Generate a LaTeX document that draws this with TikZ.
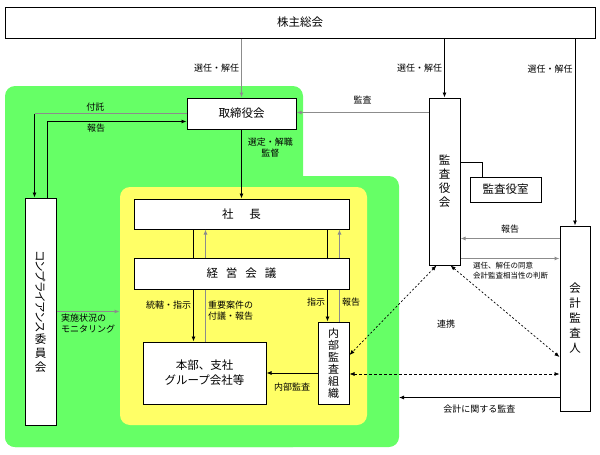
\documentclass[tikz,border=0pt]{standalone}
\usepackage{fontspec}
\setmainfont{Noto Sans CJK JP}
\newfontfamily\jpprop[RawFeature=+palt]{Noto Sans CJK JP}
\usetikzlibrary{arrows.meta, positioning, calc}
\definecolor{grnarea}{HTML}{66FF66}
\definecolor{ylwarea}{HTML}{FFFF66}
\definecolor{lngray}{HTML}{8C8C8C}

\begin{document}
\begin{tikzpicture}[x=1pt, y=-1pt, >={Latex[length=5pt,width=4pt]}, line width=0.8pt,
    box/.style={draw, fill=white, line width=1pt, inner sep=0pt, align=center,
                font=\fontsize{11.5}{14}\selectfont},
    lbl/.style={font=\fontsize{9}{11}\selectfont, inner sep=2pt, align=center},
    gline/.style={draw=lngray, line width=1pt},
    link/.style={<->, dash pattern=on 2pt off 2pt, line width=0.7pt}]
    \useasboundingbox (0,0) rectangle (600,455);
    % areas
    \fill[grnarea, rounded corners=10] (5,86) rectangle (303,447);
    \fill[grnarea, rounded corners=10] (5,176) rectangle (399,447);
    \coordinate (grnE) at (399,447);
    \node[fill=ylwarea, rounded corners=10, minimum width=247, minimum height=238] (core) at (243.5,306) {};

    \node[box, minimum width=590, minimum height=31] (agm) at (300,22.5) {株主総会};
    \node[box, minimum width=109, minimum height=31] (board) at (241.5,113.5) {取締役会};
    \node[box, minimum width=215, minimum height=30] (pres) at (241.5,214) {社\hspace{16pt}長};
    \node[box, minimum width=215, minimum height=31] (mgmt) at (241.5,273.5)
        {経\hspace{8pt}営\hspace{8pt}会\hspace{8pt}議};
    \node[box, minimum width=123, minimum height=62, font=\fontsize{11.5}{15}\selectfont]
        (branch) at (204.5,373) {本部、支社\\グループ会社等};
    \node[box, minimum width=31, minimum height=82, font=\fontsize{11}{12}\selectfont]
        (ia) at (333.5,363) {内\\部\\監\\査\\組\\織};
    \node[box, minimum width=31, minimum height=227] (comp) at (40.5,311.5)
        {\rotatebox{-90}{\jpprop コンプライアンス}\\委\\員\\会};
    \node[box, minimum width=31, minimum height=167] (aud) at (444.5,181.5) {監\\査\\役\\会};
    \node[box, minimum width=71, minimum height=25] (audoff) at (505.5,189.5) {監査役室};
    \node[box, minimum width=30, minimum height=185, font=\fontsize{11.5}{15}\selectfont]
        (auditor) at (575,318.5) {会\\計\\監\\査\\人};

    % shareholders
    \draw[gline,->] (agm.south -| board.north) -- node[lbl, left] {選任・解任} (board.north);
    \draw[->] (agm.south -| aud.north) -- node[lbl, left] {選任・解任} (aud.north);
    \draw[->] (agm.south -| auditor.north) -- node[lbl, pos=0.165, left] {選任・解任} (auditor.north);
    \draw[->] (board) -- node[lbl, pos=0.26, right=4pt] {選定・解職\\監督} (pres);

    % compliance
    \coordinate (fuK) at ([xshift=10pt]comp.north west);
    \draw[gline] (board.west) -- node[lbl, pos=0.6, above] {付託} (board.west -| fuK);
    \draw[->] (board.west -| fuK) -- (fuK);
    \draw[->] ([xshift=-9pt]comp.north east) |- node[lbl, pos=0.675, below] {報告} ([yshift=-8pt]board.west);
    \draw[gline,->] (comp) -- node[lbl, below, align=left] {実施状況の\\モニタリング} (comp -| core.west);

    % president / management
    \foreach \dx in {60,194}{\draw ([xshift=\dx pt]pres.south west) -- ([xshift=\dx pt]mgmt.north west);}
    \foreach \dx in {72,206}{\draw[gline,->] ([xshift=\dx pt]mgmt.north west) -- ([xshift=\dx pt]pres.south west);}
    \draw[->] ([xshift=60pt]mgmt.south west) -- node[lbl, pos=0.3, left] {統轄・指示}
        ([xshift=60pt]mgmt.south west |- branch.north);
    \draw[gline] ([xshift=72pt]mgmt.south west |- branch.north) -- node[lbl, pos=0.59, right, align=left]
        {重要案件の\\付議・報告} ([xshift=72pt]mgmt.south west);
    \draw[->] ([xshift=194pt]mgmt.south west) -- node[lbl, pos=0.4, left] {指示}
        ([xshift=194pt]mgmt.south west |- ia.north);
    \draw[gline] ([xshift=206pt]mgmt.south west |- ia.north) -- node[lbl, pos=0.6, right] {報告}
        ([xshift=206pt]mgmt.south west);
    \draw[->] ([yshift=-10pt]ia.west) -- node[lbl, below=8pt] {内部監査} ([yshift=-10pt]ia.west -| branch.east);

    % auditors
    \draw[gline,->] ([yshift=-15pt]aud.north west) -- node[lbl, above=6pt] {監査} ([yshift=-15pt]aud.north west -| board.east);
    \draw ([yshift=-65pt]aud.north east) -| ([xshift=13pt]audoff.north west);
    \draw[gline,->] ([yshift=-13pt]auditor.north west) -- node[lbl, above=3pt] {報告}
        ([yshift=-13pt]auditor.north west -| aud.east);
    \draw[gline,->] ([yshift=7pt]aud.south east) -- node[pos=0, anchor=north west, xshift=12pt, yshift=-3pt,
        inner sep=0pt, align=left, font=\fontsize{7.5}{10}\selectfont]
        {選任、解任の同意\\会計監査相当性の判断} ([yshift=7pt]aud.south east -| auditor.west);
    \draw[link] ([xshift=8pt]aud.south west) -- ([yshift=8pt]ia.east);
    \draw[link] ([xshift=-10pt]aud.south east) -- ([yshift=-38.5pt]auditor.west);
    \draw[link, dash pattern=on 3pt off 2pt] ([yshift=-11pt]ia.east) -- ([yshift=-11pt]ia.east -| auditor.west);
    \node[lbl] (coop) at (446,324) {連携};
    \draw[->] ([yshift=14pt]auditor.south west) -- node[lbl, below=5pt] {会計に関する監査}
        ([yshift=14pt]auditor.south west -| grnE);
\end{tikzpicture}
\end{document}
